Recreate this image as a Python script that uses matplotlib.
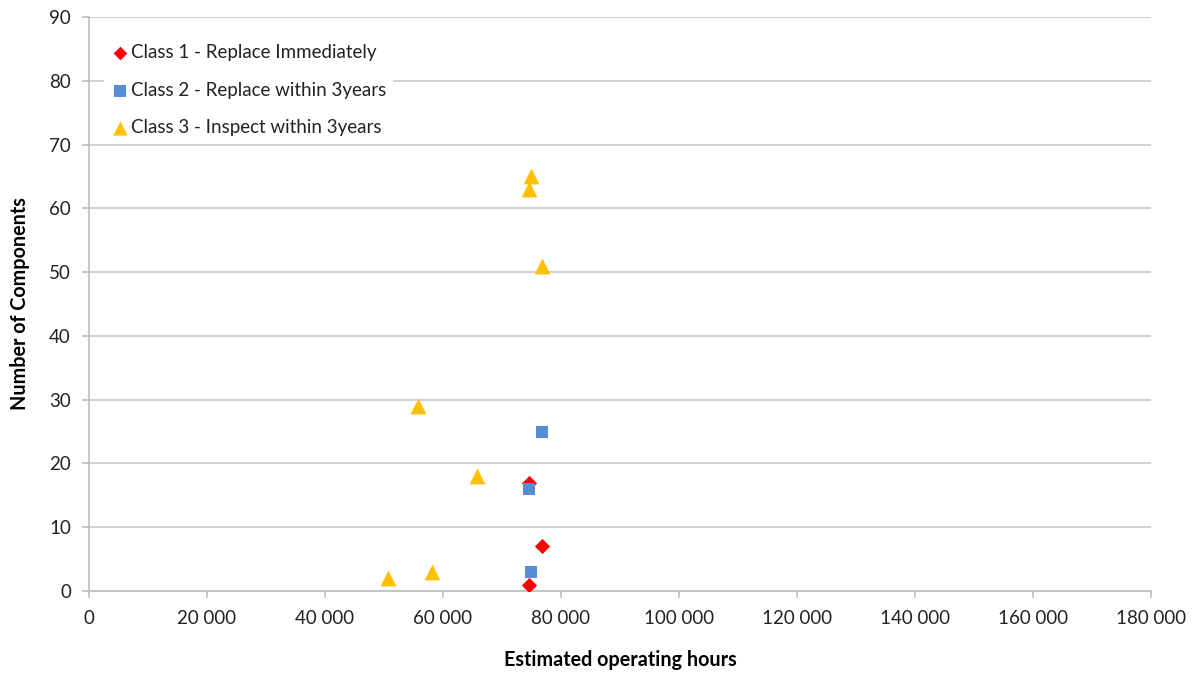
import matplotlib
matplotlib.use("Agg")
import matplotlib.pyplot as plt
from matplotlib.ticker import FuncFormatter, MultipleLocator

plt.rcParams['font.family'] = ['Lato', 'DejaVu Sans']

# data
class1_hours = [74600, 76800, 74600]
class1_count = [17, 7, 1]
class2_hours = [76800, 74600, 74900]
class2_count = [25, 16, 3]
class3_hours = [50700, 58200, 55800, 65800, 74900, 74600, 76800]
class3_count = [2, 3, 29, 18, 65, 63, 51]

labels = ['Class 1 - Replace Immediately',
          'Class 2 - Replace within 3years',
          'Class 3 - Inspect within 3years']

fig = plt.figure(figsize=(11.93, 6.73), dpi=100)
ax = fig.add_axes([89/1193, 1 - 591/673, 1062/1193, 574/673])

ax.scatter(class1_hours, class1_count, marker='D', s=60, color='#FF0000',
           label=labels[0], zorder=3, linewidths=0)
ax.scatter(class2_hours, class2_count, marker='s', s=80, color='#558ED5',
           label=labels[1], zorder=3, linewidths=0)
ax.scatter(class3_hours, class3_count, marker='^', s=130, color='#FFC000',
           label=labels[2], zorder=3, linewidths=0)

ax.set_xlim(0, 180000)
ax.set_ylim(0, 90)
ax.xaxis.set_major_locator(MultipleLocator(20000))
ax.yaxis.set_major_locator(MultipleLocator(10))
ax.xaxis.set_major_formatter(FuncFormatter(lambda v, p: f"{int(v):,}".replace(",", " ")))

ax.grid(axis='y', color='#C8C8C8', linewidth=1.2)
ax.set_axisbelow(True)
for s in ['top', 'right']:
    ax.spines[s].set_visible(False)
for s in ['left', 'bottom']:
    ax.spines[s].set_color('#BEBEBE')
    ax.spines[s].set_linewidth(1.2)
ax.tick_params(axis='both', colors='#BEBEBE', labelcolor='#222222',
               labelsize=13.5, length=5, width=1.2)
ax.tick_params(axis='x', pad=9)
ax.tick_params(axis='y', pad=8)

ax.set_xlabel('Estimated operating hours', fontsize=14.2, fontweight='bold', labelpad=16)
ax.set_ylabel('Number of Components', fontsize=14.2, fontweight='bold', labelpad=14)

leg = ax.legend(loc='upper left', bbox_to_anchor=(0.005, 0.979), frameon=True,
                fontsize=13.5, handletextpad=0.05, labelspacing=1.1,
                borderpad=0.3, scatterpoints=1, markerscale=0.9,
                handlelength=1.1)
leg.get_frame().set_facecolor('white')
leg.get_frame().set_edgecolor('white')
leg.get_frame().set_alpha(1)
leg.get_frame().set_boxstyle('square', pad=0)
for t in leg.get_texts():
    t.set_color('#222222')

fig.savefig('out.png', dpi=100)
